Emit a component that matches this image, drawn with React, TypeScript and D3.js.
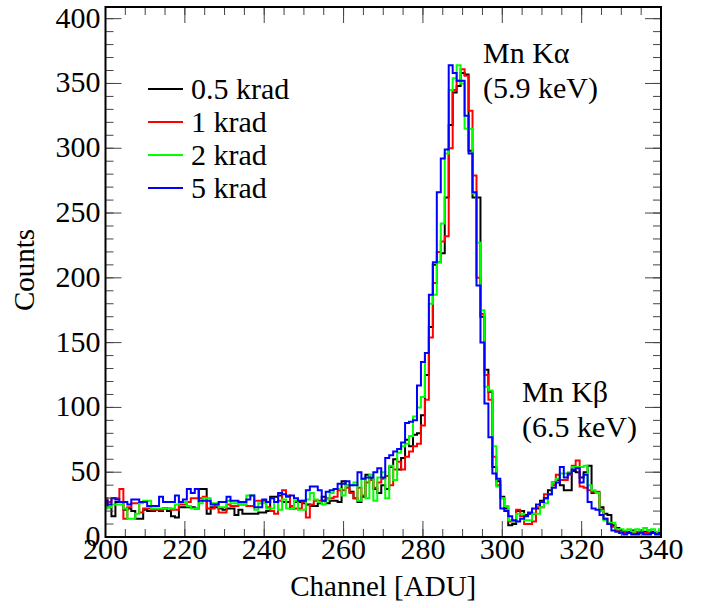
import React from 'react';
import * as d3 from 'd3';

// channel of first bin, bins are 1 ADU wide and centred on the channel
const firstChannel = 200;

const seriesNames = ['0.5 krad', '1 krad', '2 krad', '5 krad'];
const seriesColors = ['#000000', '#ff0000', '#00ff00', '#0000ff'];

const krad05 = [
  28, 23, 16, 27, 27, 21, 22, 20, 14, 14,
  21, 20, 20, 21, 20, 22, 20, 16, 15, 23,
  23, 23, 23, 22, 37, 37, 18, 23, 23, 22,
  21, 22, 22, 17, 21, 18, 18, 18, 18, 19,
  19, 20, 31, 31, 32, 27, 27, 22, 27, 27,
  26, 25, 24, 24, 26, 31, 26, 28, 28, 27,
  43, 40, 35, 30, 27, 31, 48, 45, 37, 34,
  40, 37, 54, 60, 52, 61, 75, 70, 79, 80,
  94, 125, 162, 210, 212, 219, 262, 318, 343, 348,
  358, 357, 298, 262, 262, 170, 129, 112, 54, 43,
  31, 22, 9, 10, 20, 20, 17, 18, 18, 22,
  28, 30, 36, 42, 44, 40, 36, 36, 51, 50,
  46, 50, 55, 34, 34, 23, 18, 17, 9, 7,
  5, 4, 4, 5, 3, 4, 4, 5, 4, 3, 4,
];

const krad1 = [
  30, 27, 30, 30, 37, 14, 23, 26, 26, 19,
  22, 22, 21, 21, 21, 22, 22, 21, 21, 25,
  25, 27, 30, 30, 30, 31, 22, 22, 25, 19,
  19, 25, 24, 24, 25, 25, 24, 24, 28, 28,
  28, 23, 20, 18, 28, 36, 32, 24, 22, 22,
  28, 15, 25, 28, 28, 28, 30, 30, 31, 36,
  36, 38, 34, 30, 38, 32, 42, 44, 38, 42,
  45, 47, 40, 52, 58, 52, 62, 66, 70, 72,
  86, 106, 154, 196, 220, 228, 232, 300, 345, 352,
  361, 356, 329, 279, 200, 172, 125, 106, 62, 40,
  30, 24, 12, 12, 21, 16, 10, 10, 12, 23,
  23, 33, 33, 40, 48, 44, 44, 48, 55, 59,
  39, 38, 36, 35, 35, 21, 14, 10, 8, 5,
  3, 3, 3, 3, 4, 3, 3, 3, 3, 3, 3,
];

const krad2 = [
  22, 23, 25, 25, 25, 22, 14, 14, 18, 26,
  28, 28, 22, 22, 22, 22, 22, 22, 25, 27,
  27, 24, 22, 22, 26, 30, 30, 26, 26, 23,
  23, 28, 26, 26, 25, 25, 32, 32, 21, 26,
  26, 22, 22, 27, 21, 29, 22, 22, 28, 21,
  21, 29, 34, 29, 27, 25, 29, 34, 37, 37,
  32, 40, 40, 42, 28, 45, 30, 48, 28, 46,
  50, 30, 55, 44, 65, 70, 72, 78, 93, 100,
  108, 142, 180, 187, 212, 242, 296, 345, 354, 364,
  350, 315, 315, 265, 227, 175, 116, 113, 70, 39,
  30, 24, 13, 12, 18, 18, 13, 13, 18, 18,
  23, 26, 33, 42, 45, 49, 49, 50, 54, 54,
  54, 55, 40, 36, 34, 20, 13, 11, 11, 6,
  6, 5, 6, 4, 6, 5, 7, 5, 6, 4, 6,
];

const krad5 = [
  28, 25, 30, 29, 27, 27, 25, 29, 29, 27,
  27, 24, 24, 24, 31, 27, 27, 27, 32, 27,
  29, 37, 34, 37, 28, 28, 28, 25, 25, 27,
  27, 31, 28, 28, 27, 27, 29, 32, 23, 23,
  29, 27, 30, 27, 34, 33, 31, 32, 30, 28,
  28, 36, 39, 39, 36, 28, 35, 36, 37, 41,
  41, 43, 40, 40, 50, 45, 46, 46, 50, 53,
  46, 61, 63, 66, 68, 73, 88, 89, 90, 117,
  135, 142, 187, 212, 266, 292, 299, 364, 358, 352,
  352, 325, 296, 266, 194, 150, 103, 77, 49, 45,
  22, 20, 16, 13, 12, 14, 16, 19, 22, 25,
  27, 30, 33, 38, 42, 54, 46, 49, 52, 53,
  42, 48, 27, 22, 21, 17, 14, 10, 5, 4,
  3, 2, 3, 2, 2, 3, 2, 2, 3, 2, 3,
];

const seriesValues = [krad05, krad1, krad2, krad5];

const xTicks = [200, 220, 240, 260, 280, 300, 320, 340];
const yTicks = [0, 50, 100, 150, 200, 250, 300, 350, 400];

const peakLabels = [
  { lines: ['Mn K\u03b1', '(5.9 keV)'], x: 483, y: 63 },
  { lines: ['Mn K\u03b2', '(6.5 keV)'], x: 522, y: 402 },
];

const W = 707;
const H = 608;
const left = 105.5, right = 661, top = 7, bottom = 537;
const txt = { fontFamily: 'Liberation Serif', fontSize: 30 };
const titleTxt = { fontFamily: 'Liberation Serif', fontSize: 29 };

const x = d3.scaleLinear().domain([200, 340]).range([left, right]);
const y = d3.scaleLinear().domain([0, 409]).range([bottom, top]);

const stepLine = d3.line<[number, number]>()
  .x((d) => x(d[0]))
  .y((d) => y(d[1]))
  .curve(d3.curveStepAfter);

const histPath = (vals: number[]) => {
  const pts: [number, number][] = vals.map((v, i) => [firstChannel + i - 0.5, v]);
  pts.push([firstChannel + vals.length - 0.5, vals[vals.length - 1]]);
  return stepLine(pts) || '';
};

const App = () => {
  const xMinor = d3.range(200, 341, 5);
  const yMinor = d3.range(0, 409, 10);
  const tick = { stroke: '#444', strokeWidth: 1 };

  return (
    <svg width={W} height={H} style={{ position: 'absolute', left: 0, top: 0, background: '#fff' }}>
      <defs>
        <clipPath id="plot-clip">
          <rect x={left} y={top} width={right - left} height={bottom - top} />
        </clipPath>
      </defs>

      <g clipPath="url(#plot-clip)">
        {seriesValues.map((vals, k) => (
          <path key={k} d={histPath(vals)} fill="none" stroke={seriesColors[k]} strokeWidth={2} />
        ))}
      </g>

      {/* ticks on all four sides, pointing inward */}
      {xMinor.map((v) => (
        <g key={'xm' + v}>
          <line x1={x(v)} x2={x(v)} y1={bottom} y2={bottom - 8} {...tick} />
          <line x1={x(v)} x2={x(v)} y1={top} y2={top + 8} {...tick} />
        </g>
      ))}
      {xTicks.map((v) => (
        <g key={'x' + v}>
          <line x1={x(v)} x2={x(v)} y1={bottom} y2={bottom - 16} {...tick} />
          <line x1={x(v)} x2={x(v)} y1={top} y2={top + 16} {...tick} />
          <text x={x(v)} y={bottom + 22} textAnchor="middle" style={txt}>{v}</text>
        </g>
      ))}
      {yMinor.map((v) => (
        <g key={'ym' + v}>
          <line x1={left} x2={left + 8} y1={y(v)} y2={y(v)} {...tick} />
          <line x1={right} x2={right - 8} y1={y(v)} y2={y(v)} {...tick} />
        </g>
      ))}
      {yTicks.map((v) => (
        <g key={'y' + v}>
          <line x1={left} x2={left + 16} y1={y(v)} y2={y(v)} {...tick} />
          <line x1={right} x2={right - 16} y1={y(v)} y2={y(v)} {...tick} />
          <text x={left - 5} y={y(v) + 9} textAnchor="end" style={txt}>{v}</text>
        </g>
      ))}

      <rect x={left} y={top} width={right - left} height={bottom - top}
        fill="none" stroke="#000" strokeWidth={2} />

      {/* axis titles */}
      <text x={(left + right) / 2} y={596} textAnchor="middle" style={titleTxt}>Channel [ADU]</text>
      <text transform="translate(34,270) rotate(-90)" textAnchor="middle" style={titleTxt}>Counts</text>

      {/* legend */}
      {seriesNames.map((name, k) => {
        const ly = 89 + k * 33;
        return (
          <g key={name}>
            <line x1={148} x2={183} y1={ly} y2={ly} stroke={seriesColors[k]} strokeWidth={2} />
            <text x={191} y={ly + 10} style={txt}>{name}</text>
          </g>
        );
      })}

      {/* peak annotations */}
      {peakLabels.map((p) => p.lines.map((t, i) => (
        <text key={t} x={p.x} y={p.y + i * 35} style={txt}>{t}</text>
      )))}
    </svg>
  );
};

export default App;
